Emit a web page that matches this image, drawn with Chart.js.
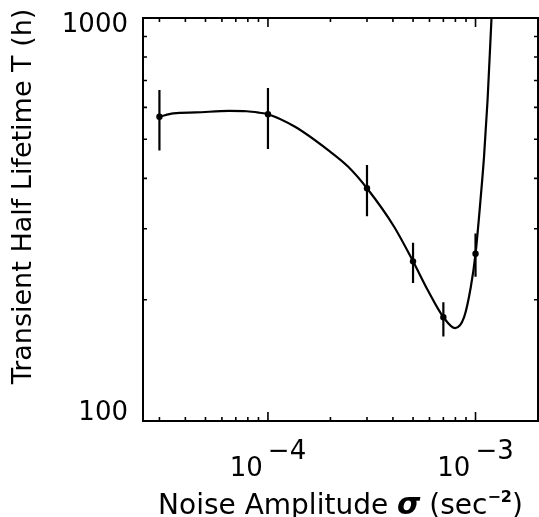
<!DOCTYPE html>
<html>
<head>
<meta charset="utf-8">
<script src="https://cdn.jsdelivr.net/npm/chart.js@4.4.1/dist/chart.umd.min.js"></script>
<style>
  html, body { margin: 0; padding: 0; background: #fff; }
  #wrap { width: 539px; height: 517px; }
</style>
</head>
<body>
<div id="wrap"><canvas id="chart" width="539" height="517"></canvas></div>
<script>
// measured points with error bars
const pointX = [3e-5, 1e-4, 3e-4, 5e-4, 7e-4, 1e-3]
const pointY = [569, 577, 378, 249, 181, 260]
const errLow = [469, 473, 322, 220, 162, 228]
const errHigh = [663, 670, 432, 277, 197, 292]

// fitted curve
const curveX = [3e-5, 3.5e-5, 4.5e-5, 6.5e-5, 7.9e-5, 9.1e-5, 1e-4, 1.35e-4, 1.95e-4, 2.43e-4, 3e-4, 4.06e-4, 5e-4, 5.89e-4, 7e-4, 7.98e-4, 8.81e-4, 9.49e-4, 1e-3, 1.057e-3, 1.099e-3, 1.143e-3, 1.194e-3]
const curveY = [569, 580, 583, 588, 587, 582, 577, 537, 470, 428, 378, 303, 249, 211, 181, 170, 181, 215, 260, 354, 453, 626, 1000]

// axes
const xRange = [2.5e-5, 2e-3]
const yRange = [100, 1000]
const xMajorTicks = [1e-4, 1e-3]
const xMajorLabels = ['\u22124', '\u22123']
const xMinorTicks = [3e-5, 4e-5, 5e-5, 6e-5, 7e-5, 8e-5, 9e-5, 2e-4, 3e-4, 4e-4, 5e-4, 6e-4, 7e-4, 8e-4, 9e-4]
const yLabelTicks = [100, 1000]
const yMinorTicks = [200, 300, 400, 500, 600, 700, 800, 900]

const FONT = '"DejaVu Sans", sans-serif'

const frameAndText = {
  id: 'frameAndText',
  afterDraw(chart) {
    const { ctx, chartArea: a, scales } = chart
    const xs = scales.x, ys = scales.y
    ctx.save()
    ctx.strokeStyle = '#000'
    ctx.fillStyle = '#000'

    // frame
    ctx.lineWidth = 2
    ctx.strokeRect(a.left, a.top, a.right - a.left, a.bottom - a.top)

    // inside ticks
    ctx.lineWidth = 1.6
    ctx.beginPath()
    const xt = (v, len) => {
      const px = xs.getPixelForValue(v)
      ctx.moveTo(px, a.bottom); ctx.lineTo(px, a.bottom - len)
      ctx.moveTo(px, a.top); ctx.lineTo(px, a.top + len)
    }
    xMinorTicks.forEach(v => xt(v, 4))
    xMajorTicks.forEach(v => xt(v, 9))
    yMinorTicks.forEach(v => {
      const py = ys.getPixelForValue(v)
      ctx.moveTo(a.left, py); ctx.lineTo(a.left + 4, py)
      ctx.moveTo(a.right, py); ctx.lineTo(a.right - 4, py)
    })
    ctx.stroke()

    // y labels
    ctx.font = '26px ' + FONT
    ctx.textAlign = 'right'
    ctx.textBaseline = 'middle'
    yLabelTicks.forEach(v => {
      const py = ys.getPixelForValue(v)
      const off = v === yRange[1] ? 7 : -8
      ctx.fillText(String(v), a.left - 15, py + off)
    })

    // x labels: 10 with raised exponent
    ctx.textAlign = 'left'
    ctx.textBaseline = 'alphabetic'
    xMajorTicks.forEach((v, i) => {
      const px = xs.getPixelForValue(v)
      const w1 = ctx.measureText('10').width
      const w2 = ctx.measureText(xMajorLabels[i]).width
      const x0 = px - (w1 + 5 + w2) / 2
      ctx.fillText('10', x0, 476)
      ctx.fillText(xMajorLabels[i], x0 + w1 + 5, 459)
    })

    // x title
    const parts = [
      { t: 'Noise Amplitude ', f: '28px ' + FONT, dy: 0 },
      { t: '\u03c3', f: 'italic bold 30px ' + FONT, dy: 0 },
      { t: ' (sec', f: '28px ' + FONT, dy: 0 },
      { t: '\u22122', f: 'bold 16px ' + FONT, dy: -12 },
      { t: ')', f: '28px ' + FONT, dy: 0 }
    ]
    let total = 0
    parts.forEach(p => { ctx.font = p.f; p.w = ctx.measureText(p.t).width; total += p.w })
    let x = (a.left + a.right) / 2 - total / 2
    parts.forEach(p => {
      ctx.font = p.f
      ctx.fillText(p.t, x, 514 + p.dy)
      x += p.w
    })

    // y title
    ctx.font = '27px ' + FONT
    ctx.translate(24, (a.top + a.bottom) / 2 - 23)
    ctx.rotate(-Math.PI / 2)
    ctx.textAlign = 'center'
    ctx.textBaseline = 'middle'
    ctx.fillText('Transient Half Lifetime T (h)', 0, 0)
    ctx.restore()
  }
}

const curveData = curveX.map((x, i) => ({ x: x, y: curveY[i] }))
const pointData = pointX.map((x, i) => ({ x: x, y: pointY[i] }))
const errData = pointX.flatMap((x, i) => [{ x: x, y: errLow[i] }, { x: x, y: errHigh[i] }, { x: x, y: null }])

new Chart(document.getElementById('chart').getContext('2d'), {
  type: 'line',
  data: {
    datasets: [
      { data: curveData, borderColor: '#000', borderWidth: 2.2, pointRadius: 0, cubicInterpolationMode: 'monotone', fill: false },
      { data: errData, borderColor: '#000', borderWidth: 2.2, pointRadius: 0, tension: 0, spanGaps: false, fill: false },
      { data: pointData, showLine: false, pointRadius: 3.2, pointBackgroundColor: '#000', pointBorderColor: '#000', pointBorderWidth: 0 }
    ]
  },
  options: {
    responsive: false,
    animation: false,
    events: [],
    layout: { autoPadding: false, padding: { top: 18, right: 1, left: 0, bottom: 0 } },
    plugins: { legend: { display: false }, tooltip: { enabled: false } },
    scales: {
      x: {
        type: 'logarithmic', min: xRange[0], max: xRange[1],
        grid: { display: false }, border: { display: false }, ticks: { display: false },
        afterFit(s) { s.height = 96 }
      },
      y: {
        type: 'logarithmic', min: yRange[0], max: yRange[1],
        grid: { display: false }, border: { display: false }, ticks: { display: false },
        afterFit(s) { s.width = 143 }
      }
    }
  },
  plugins: [frameAndText]
})
</script>
</body>
</html>
